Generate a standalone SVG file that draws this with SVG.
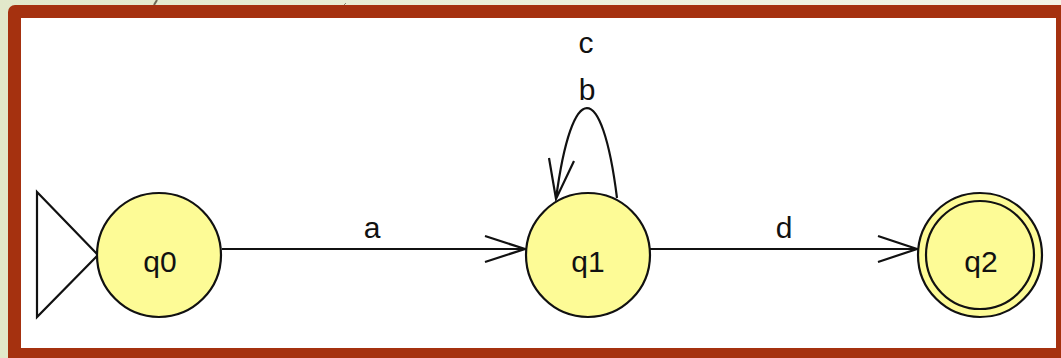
<svg xmlns="http://www.w3.org/2000/svg" width="1061" height="358" viewBox="0 0 1061 358">
<defs>
<linearGradient id="bg" x1="0" y1="0" x2="1" y2="0">
<stop offset="0" stop-color="#e2e8ca"/>
<stop offset="0.6" stop-color="#eef0dc"/>
<stop offset="1" stop-color="#f3f3e6"/>
</linearGradient>
<style>
.state{fill:#fdfb96;stroke:#111;stroke-width:2.2}
.edge{fill:none;stroke:#111;stroke-width:2.2}
.lbl{font-family:"Liberation Sans",Arial,sans-serif;font-size:30px;fill:#111;text-anchor:middle}
</style>
</defs>
<rect x="0" y="0" width="1061" height="358" fill="url(#bg)"/>
<line x1="157" y1="0" x2="154" y2="5" stroke="#6e6a55" stroke-width="2"/>
<line x1="346" y1="3" x2="344" y2="5" stroke="#8a8670" stroke-width="1"/>
<rect id="frame" x="8" y="5" width="1060" height="360" rx="7" fill="#a5310f"/>
<rect x="21" y="18" width="1035" height="330" fill="#ffffff"/>
<g id="connectors">
<path class="edge" d="M222,249 L525,249 M485,236 L525,249 L485,262"/>
<path class="edge" d="M650,249 L917,249 M878,236 L917,249 L878,262"/>
<path class="edge" d="M617,198 C602,78 572,78 556,199 M574,161 L556,199 L549,158"/>
<text class="lbl" x="372" y="238">a</text>
<text class="lbl" x="784" y="238">d</text>
<text class="lbl" x="587" y="100">b</text>
<text class="lbl" x="586" y="53">c</text>
</g>
<g id="start">
<polygon points="37,192 98,255 37,317" fill="#ffffff" stroke="#111" stroke-width="2.2"/>
</g>
<g id="q0">
<circle class="state" cx="159" cy="255" r="62"/>
<text class="lbl" x="160" y="272">q0</text>
</g>
<g id="q1">
<circle class="state" cx="588" cy="255" r="62"/>
<text class="lbl" x="588" y="272">q1</text>
</g>
<g id="q2">
<circle class="state" cx="980" cy="255" r="62"/>
<circle class="state" cx="980" cy="255" r="54"/>
<text class="lbl" x="981" y="272">q2</text>
</g>
</svg>
